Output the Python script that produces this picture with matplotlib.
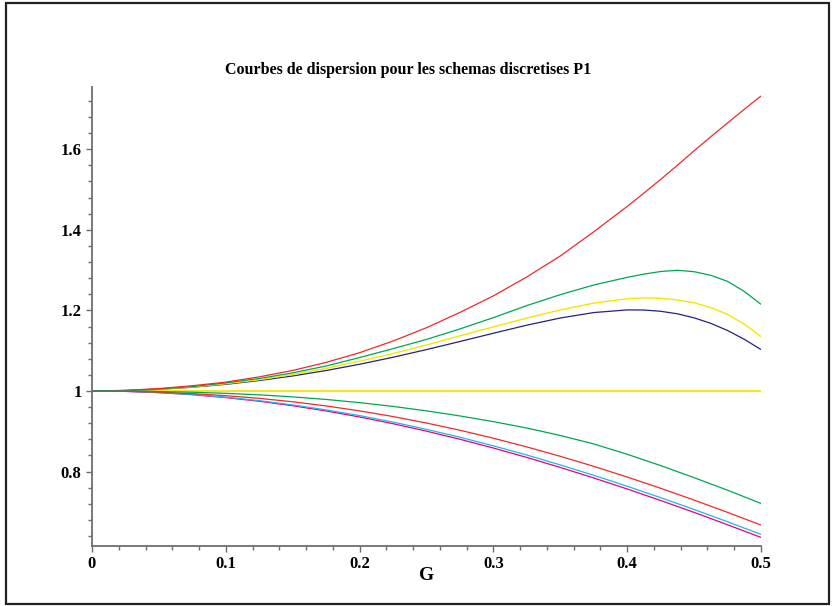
import matplotlib
matplotlib.use("Agg")
import matplotlib.pyplot as plt
from matplotlib.patches import Rectangle
from matplotlib.ticker import MultipleLocator, FixedLocator

# wave-number G for the lower branch
G = [0.0, 0.025, 0.05, 0.075, 0.1, 0.125, 0.15, 0.175, 0.2, 0.225, 0.25,
     0.275, 0.3, 0.325, 0.35, 0.375, 0.4, 0.425, 0.45, 0.475, 0.5]
# upper branch is read more finely near the maxima
G_up = [0.0, 0.025, 0.05, 0.075, 0.1, 0.125, 0.15, 0.175, 0.2, 0.225, 0.25,
        0.275, 0.3, 0.325, 0.35, 0.375, 0.4, 0.4125, 0.425, 0.4375, 0.45,
        0.4625, 0.475, 0.4875, 0.5]

# upper branch
red_up = [1.0, 1.0015, 1.006, 1.013, 1.022, 1.035, 1.051, 1.071, 1.095, 1.124,
          1.157, 1.195, 1.236, 1.283, 1.335, 1.395, 1.458, 1.491, 1.525, 1.560,
          1.596, 1.631, 1.665, 1.699, 1.732]
green_up = [1.0, 1.0012, 1.005, 1.011, 1.020, 1.031, 1.045, 1.062, 1.083, 1.105,
            1.128, 1.154, 1.182, 1.212, 1.239, 1.263, 1.282, 1.290, 1.2965, 1.2995,
            1.296, 1.287, 1.272, 1.247, 1.215]
yellow_up = [1.0, 1.0011, 1.0045, 1.010, 1.018, 1.028, 1.041, 1.056, 1.074, 1.093,
             1.114, 1.137, 1.159, 1.181, 1.201, 1.218, 1.229, 1.231, 1.230, 1.226,
             1.219, 1.207, 1.190, 1.166, 1.135]
navy_up = [1.0, 1.001, 1.0041, 1.0093, 1.0165, 1.0259, 1.0373, 1.0508, 1.0663, 1.0837,
           1.1027, 1.1228, 1.1433, 1.1633, 1.1811, 1.1946, 1.2012, 1.2009, 1.1978, 1.1915,
           1.1815, 1.1678, 1.1501, 1.1283, 1.1027]
exact = [1.0] * len(G)

# lower branch
green_lo = [1.0, 0.9997, 0.9987, 0.9969, 0.9942, 0.9904, 0.9854, 0.9790, 0.9711, 0.9617,
            0.9507, 0.9381, 0.9239, 0.9081, 0.8896, 0.8686, 0.8429, 0.8149, 0.7849, 0.7539, 0.7209]
red_lo = [1.0, 0.9993, 0.9971, 0.9935, 0.9884, 0.9817, 0.9732, 0.9629, 0.9507, 0.9366,
          0.9205, 0.9026, 0.8828, 0.8612, 0.8379, 0.8130, 0.7865, 0.7586, 0.7293, 0.6988, 0.6673]
cyan_lo = [1.0, 0.9991, 0.9962, 0.9914, 0.9846, 0.9760, 0.9654, 0.9531, 0.9390, 0.9228,
           0.9048, 0.8852, 0.8639, 0.8411, 0.8166, 0.7908, 0.7636, 0.7353, 0.7059, 0.6755, 0.6441]
magenta_lo = [1.0, 0.9990, 0.9959, 0.9908, 0.9836, 0.9745, 0.9634, 0.9504, 0.9355, 0.9188,
              0.9003, 0.8802, 0.8584, 0.8351, 0.8103, 0.7842, 0.7568, 0.7283, 0.6987, 0.6681, 0.6366]

YELLOW = "#f5e600"
GREEN = "#00a651"
RED = "#ee2a2a"
curves = [
    (G, exact, YELLOW, 1.3),
    (G_up, navy_up, "#23237e", 0.9),
    (G_up, yellow_up, YELLOW, 1.0),
    (G_up, green_up, GREEN, 0.9),
    (G_up, red_up, RED, 0.9),
    (G, magenta_lo, "#e6007e", 0.9),
    (G, cyan_lo, "#1eb4f0", 0.9),
    (G, red_lo, RED, 0.9),
    (G, green_lo, GREEN, 0.9),
]

SERIF = ["Liberation Serif", "DejaVu Serif"]

fig = plt.figure(figsize=(8.32, 6.06), dpi=100)
ax = fig.add_axes([92 / 832, (606 - 545.7) / 606, (761 - 92) / 832, (545.7 - 87) / 606])

for xs, ys, col, lw in curves:
    ax.plot(xs, ys, color=col, lw=lw, solid_capstyle="butt")

ax.set_xlim(0, 0.5)
ax.set_ylim(0.6161, 1.7543)

for side in ("top", "right"):
    ax.spines[side].set_visible(False)
for side in ("left", "bottom"):
    ax.spines[side].set_color("#6e6e6e")
    ax.spines[side].set_linewidth(1.3)

ax.xaxis.set_major_locator(FixedLocator([0, 0.1, 0.2, 0.3, 0.4, 0.5]))
ax.xaxis.set_minor_locator(MultipleLocator(0.02))
ax.yaxis.set_major_locator(FixedLocator([0.8, 1.0, 1.2, 1.4, 1.6]))
ax.yaxis.set_minor_locator(MultipleLocator(0.04))
ax.set_xticklabels(["0", "0.1", "0.2", "0.3", "0.4", "0.5"])
ax.set_yticklabels(["0.8", "1", "1.2", "1.4", "1.6"])
ax.tick_params(which="major", length=4.5, width=1.0, color="#6e6e6e", pad=3)
ax.tick_params(which="minor", length=2.8, width=1.0, color="#6e6e6e")
for lbl in ax.get_xticklabels() + ax.get_yticklabels():
    lbl.set_fontfamily(SERIF)
    lbl.set_fontweight("bold")
    lbl.set_fontsize(12)

ax.set_xlabel("G", family=SERIF, fontweight="bold", fontsize=14, labelpad=-4)
fig.text(408 / 832, 1 - 70 / 606, "Courbes de dispersion pour les schemas discretises P1",
         family=SERIF, fontweight="bold", fontsize=11.5, ha="center", va="center")

# frame around the whole picture
fig.patches.append(Rectangle((6 / 832, 2 / 606), 823 / 832, 601 / 606,
                             transform=fig.transFigure, fill=False,
                             edgecolor="#222222", lw=1.6))

fig.savefig("out.png", dpi=100)
